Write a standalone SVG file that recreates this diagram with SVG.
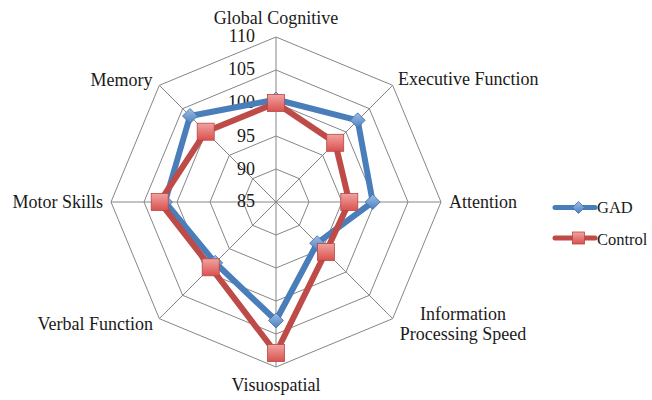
<svg xmlns="http://www.w3.org/2000/svg" width="652" height="400" viewBox="0 0 652 400">
  <defs>
    <linearGradient id="gBlue" x1="0" y1="0" x2="0" y2="1">
      <stop offset="0" stop-color="#9DBDE6"/>
      <stop offset="1" stop-color="#4F81BD"/>
    </linearGradient>
    <linearGradient id="gRed" x1="0" y1="0" x2="0" y2="1">
      <stop offset="0" stop-color="#F1A3A1"/>
      <stop offset="1" stop-color="#D9524F"/>
    </linearGradient>
    <symbol id="dia" viewBox="-8 -8 16 16" overflow="visible">
      <polygon points="0,-7.5 7.5,0 0,7.5 -7.5,0" fill="url(#gBlue)" stroke="#3F6FA8" stroke-width="0.8"/>
    </symbol>
    <symbol id="sq" viewBox="-9 -9 18 18" overflow="visible">
      <rect x="-8.5" y="-8.5" width="17" height="17" fill="url(#gRed)" stroke="#B84744" stroke-width="0.8"/>
    </symbol>
  </defs>
  <style>
    .grid { fill: none; stroke: #868686; stroke-width: 1; }
    .lbl { font-family: "Liberation Serif", "Times New Roman", serif; font-size: 18px; fill: #1a1a1a; }
    .tick { font-family: "Liberation Serif", "Times New Roman", serif; font-size: 18px; fill: #1a1a1a; text-anchor: end; }
    .legtxt { font-family: "Liberation Serif", "Times New Roman", serif; font-size: 16.5px; fill: #1a1a1a; }
    .gad { fill: none; stroke: #4A7EBB; stroke-width: 6; stroke-linejoin: round; }
    .ctl { fill: none; stroke: #BE4B48; stroke-width: 6; stroke-linejoin: round; }
  </style>
  <rect width="652" height="400" fill="#ffffff"/>

  <g id="grid">
    <polygon class="grid" points="276,169 299.33,178.67 309,202 299.33,225.33 276,235 252.67,225.33 243,202 252.67,178.67"/>
    <polygon class="grid" points="276,136 322.67,155.33 342,202 322.67,248.67 276,268 229.33,248.67 210,202 229.33,155.33"/>
    <polygon class="grid" points="276,103 346,132 375,202 346,272 276,301 206,272 177,202 206,132"/>
    <polygon class="grid" points="276,70 369.34,108.66 408,202 369.34,295.34 276,334 182.66,295.34 144,202 182.66,108.66"/>
    <polygon class="grid" points="276,37 392.67,85.33 441,202 392.67,318.67 276,367 159.33,318.67 111,202 159.33,85.33"/>
    <path class="grid" d="M276,202V37M276,202L392.67,85.33M276,202H441M276,202L392.67,318.67M276,202V367M276,202L159.33,318.67M276,202H111M276,202L159.33,85.33"/>
  </g>

  <g id="ticks">
    <text class="tick" x="255" y="42">110</text>
    <text class="tick" x="255" y="75">105</text>
    <text class="tick" x="255" y="108">100</text>
    <text class="tick" x="255" y="141.5">95</text>
    <text class="tick" x="255" y="175">90</text>
    <text class="tick" x="255" y="207">85</text>
  </g>

  <g id="labels">
    <text id="lbl-global" class="lbl" x="276" y="23.5" text-anchor="middle">Global Cognitive</text>
    <text id="lbl-exec" class="lbl" x="398" y="85">Executive Function</text>
    <text id="lbl-att" class="lbl" x="449" y="207.5">Attention</text>
    <text id="lbl-ips" class="lbl" x="463" y="320" text-anchor="middle">Information<tspan x="463" dy="20">Processing Speed</tspan></text>
    <text id="lbl-vis" class="lbl" x="276" y="390.5" text-anchor="middle">Visuospatial</text>
    <text id="lbl-verbal" class="lbl" x="153" y="330" text-anchor="end">Verbal Function</text>
    <text id="lbl-motor" class="lbl" x="103" y="207.5" text-anchor="end">Motor Skills</text>
    <text id="lbl-memory" class="lbl" x="152.5" y="86" text-anchor="end">Memory</text>
  </g>

  <g id="series-gad">
    <polygon class="gad" points="276,99.5 357.67,120.33 372.7,202 317.2,243.2 276,320.5 215.2,262.8 165,202 190,116"/>
    <use href="#dia" x="268" y="91.5" width="16" height="16"/>
    <use href="#dia" x="349.67" y="112.33" width="16" height="16"/>
    <use href="#dia" x="364.7" y="194" width="16" height="16"/>
    <use href="#dia" x="309.2" y="235.2" width="16" height="16"/>
    <use href="#dia" x="268" y="312.5" width="16" height="16"/>
    <use href="#dia" x="207.2" y="254.8" width="16" height="16"/>
    <use href="#dia" x="157" y="194" width="16" height="16"/>
    <use href="#dia" x="182" y="108" width="16" height="16"/>
  </g>

  <g id="series-control">
    <polygon class="ctl" points="276,103 335.2,142.8 349.3,202 325.9,251.9 276,353 210.7,267.3 159.7,202 205.7,131.7"/>
    <use href="#sq" x="267" y="94" width="18" height="18"/>
    <use href="#sq" x="326.2" y="133.8" width="18" height="18"/>
    <use href="#sq" x="340.3" y="193" width="18" height="18"/>
    <use href="#sq" x="316.9" y="242.9" width="18" height="18"/>
    <use href="#sq" x="267" y="344" width="18" height="18"/>
    <use href="#sq" x="201.7" y="258.3" width="18" height="18"/>
    <use href="#sq" x="150.7" y="193" width="18" height="18"/>
    <use href="#sq" x="196.7" y="122.7" width="18" height="18"/>
  </g>

  <g id="legend">
    <g id="legend-gad">
      <line x1="555" y1="207.5" x2="595" y2="207.5" stroke="#4A7EBB" stroke-width="5" stroke-linecap="round"/>
      <polygon points="578.5,201.5 584.5,207.5 578.5,213.5 572.5,207.5" fill="url(#gBlue)" stroke="#3F6FA8" stroke-width="0.8"/>
      <text class="legtxt" x="597" y="213" font-family="Liberation Serif, serif">GAD</text>
    </g>
    <g id="legend-control">
      <line x1="555" y1="238" x2="595" y2="238" stroke="#BE4B48" stroke-width="5" stroke-linecap="round"/>
      <rect x="572.5" y="232" width="12" height="12" fill="url(#gRed)" stroke="#B84744" stroke-width="0.8"/>
      <text class="legtxt" x="597" y="244.5" font-family="Liberation Serif, serif">Control</text>
    </g>
  </g>
</svg>
